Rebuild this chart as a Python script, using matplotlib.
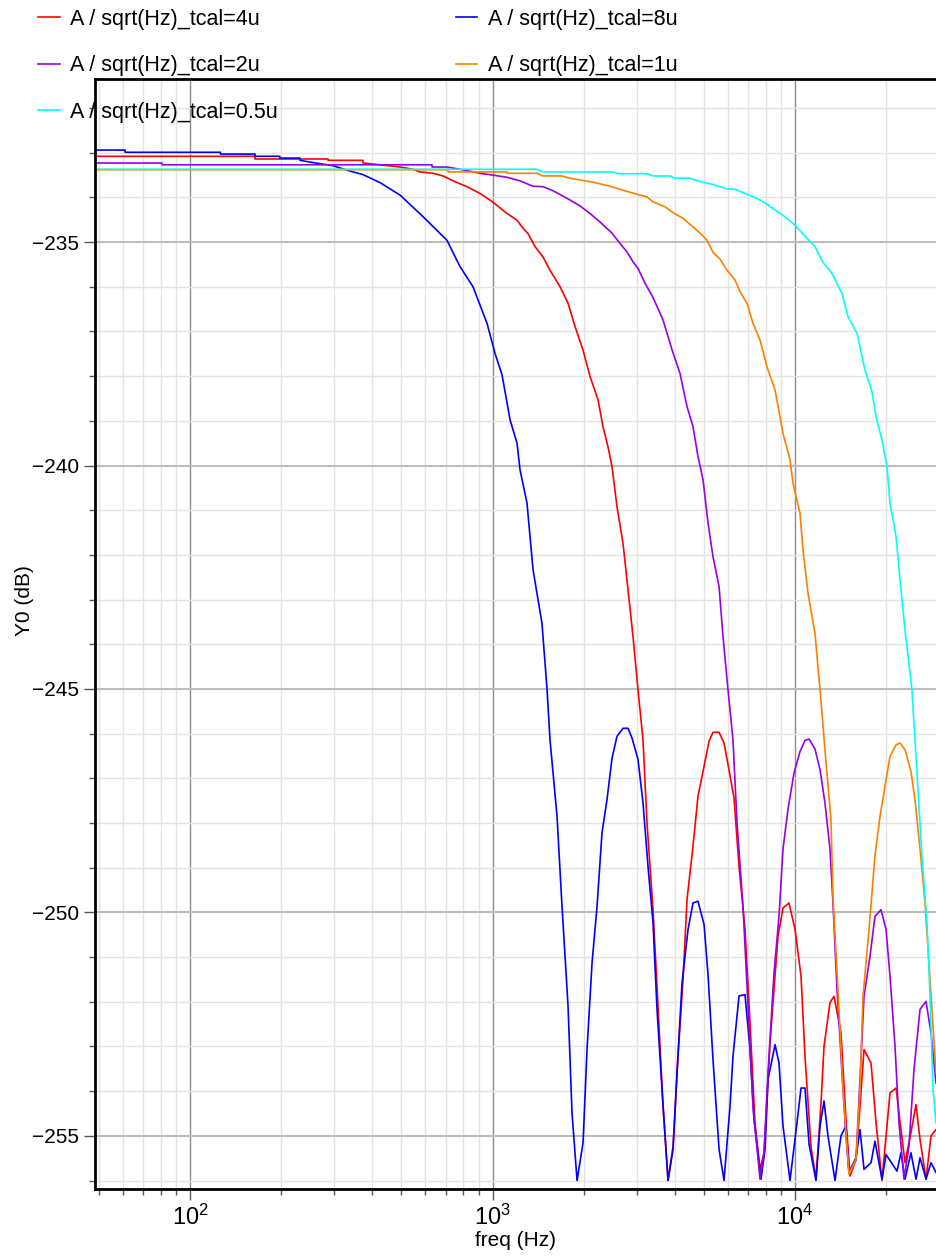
import numpy as np
import matplotlib
matplotlib.use("Agg")
import matplotlib.pyplot as plt
from matplotlib.ticker import LogLocator, MultipleLocator, NullFormatter

plt.rcParams['font.family'] = ['Liberation Sans', 'DejaVu Sans']

# tcal = 8u
f_8u = [48.5, 61, 61, 126, 126, 164, 164, 198, 198, 231, 231, 255, 297, 330, 373, 425, 495, 589, 707, 781,
        862, 959, 1019, 1075, 1143, 1205, 1233, 1300, 1361, 1457, 1514, 1549, 1634, 1697, 1777, 1831, 1903,
        1992, 2053, 2133, 2216, 2301, 2390, 2483, 2579, 2700, 2805, 2892, 3027, 3144, 3266, 3393, 3498, 3634,
        3804, 3952, 4073, 4231, 4430, 4600, 4778, 5004, 5158, 5357, 5609, 5825, 6097, 6237, 6530, 6834, 7100,
        7317, 7720, 7960, 8143, 8590, 8853, 9127, 9627, 10150, 10470, 10790, 11130, 11730, 12100, 12470,
        12850, 13560, 14190, 14740, 15080, 15910, 16400, 16910, 17840, 18380, 19390, 20000, 21740, 22400,
        23100, 24170, 25120, 25900, 27110, 28160, 29250]
db_8u = [-232.94, -232.94, -232.99, -232.99, -233.03, -233.03, -233.08, -233.08, -233.12, -233.12, -233.17,
         -233.22, -233.29, -233.39, -233.49, -233.67, -233.95, -234.43, -234.96, -235.55, -236.0, -236.82,
         -237.49, -237.97, -238.98, -239.5, -240.1, -240.84, -242.33, -243.53, -245.0, -246.14, -247.85,
         -249.86, -252.1, -254.48, -256.0, -255.15, -253.07, -251.13, -249.86, -248.22, -247.48, -246.55,
         -246.06, -245.88, -245.88, -246.1, -246.58, -247.55, -248.97, -250.23, -252.17, -253.96, -256.0,
         -255.3, -253.59, -251.58, -250.38, -249.79, -249.75, -250.27, -251.4, -253.3, -255.3, -256.0,
         -254.34, -253.22, -251.87, -251.84, -253.07, -254.63, -255.97, -255.3, -253.74, -252.96, -253.37,
         -254.78, -256.0, -254.71, -253.93, -253.93, -255.19, -256.0, -254.78, -254.22, -255.0, -256.0,
         -255.0, -254.78, -255.82, -255.49, -254.86, -255.75, -255.6, -255.12, -255.97, -255.42, -255.79,
         -255.38, -255.97, -255.38, -255.97, -255.49, -255.97, -255.6, -255.82]

# tcal = 4u
f_4u = [48.5, 164, 164, 286, 286, 373, 373, 425, 495, 546, 576, 636, 686, 752, 824, 909, 1000, 1117, 1205,
        1261, 1310, 1382, 1468, 1549, 1672, 1777, 1874, 1992, 2101, 2233, 2318, 2408, 2483, 2579, 2700, 2805,
        2914, 3027, 3144, 3241, 3393, 3525, 3661, 3804, 3952, 4104, 4264, 4395, 4600, 4778, 5004, 5197, 5357,
        5609, 5825, 6050, 6285, 6530, 6834, 7100, 7373, 7661, 7898, 8267, 8787, 9127, 9555, 10000, 10470,
        10790, 11290, 11730, 12190, 12470, 13050, 13460, 14190, 14740, 15200, 15910, 16400, 16910, 17840,
        18530, 19390, 20000, 20610, 21580, 22400, 23100, 24170, 25120, 25900, 27110, 28160, 29250]
db_4u = [-233.08, -233.08, -233.14, -233.14, -233.17, -233.17, -233.23, -233.27, -233.32, -233.37, -233.43,
         -233.46, -233.52, -233.65, -233.76, -233.91, -234.1, -234.36, -234.51, -234.69, -234.81, -235.1,
         -235.33, -235.63, -236.0, -236.37, -236.89, -237.42, -238.01, -238.53, -239.13, -239.58, -240.02,
         -240.92, -241.74, -242.78, -243.83, -245.02, -246.14, -248.0, -249.94, -252.1, -254.34, -256.0,
         -255.23, -253.22, -251.5, -249.71, -248.52, -247.4, -246.73, -246.17, -245.97, -245.97, -246.21,
         -246.81, -247.44, -248.97, -250.38, -252.47, -254.71, -255.75, -255.38, -252.92, -250.53, -249.9,
         -249.79, -250.38, -251.43, -253.22, -255.23, -255.97, -254.26, -253.0, -252.02, -251.88, -252.7,
         -254.63, -255.9, -255.53, -254.34, -253.07, -253.37, -254.71, -256.0, -255.0, -254.04, -253.93,
         -254.86, -255.6, -254.93, -254.3, -255.08, -255.97, -255.0, -254.86]

# tcal = 2u
f_2u = [48.5, 80.8, 80.8, 631, 631, 707, 781, 909, 1000, 1117, 1233, 1361, 1468, 1585, 1763, 1947, 2101,
        2267, 2483, 2639, 2783, 2914, 3027, 3193, 3393, 3661, 3922, 4167, 4395, 4600, 4778, 4965, 5158, 5357,
        5609, 5781, 6005, 6237, 6432, 6730, 6993, 7263, 7661, 7898, 8143, 8522, 8853, 9127, 9482, 9924,
        10390, 10790, 11130, 11640, 12100, 12560, 13050, 13350, 13770, 14300, 14740, 15080, 15910, 16400,
        16910, 17700, 18380, 19240, 20000, 20610, 21410, 22070, 22930, 23810, 24740, 25900, 27110, 28160,
        29250]
db_2u = [-233.23, -233.23, -233.27, -233.27, -233.32, -233.32, -233.37, -233.46, -233.5, -233.55, -233.63,
         -233.75, -233.76, -233.85, -234.02, -234.19, -234.36, -234.55, -234.8, -235.03, -235.22, -235.44,
         -235.59, -235.92, -236.24, -236.74, -237.41, -237.94, -238.68, -239.13, -239.8, -240.32, -241.29,
         -242.04, -242.71, -243.83, -245.02, -246.14, -248.0, -249.86, -252.1, -254.34, -255.97, -255.38,
         -253.59, -251.35, -250.09, -248.58, -247.69, -246.88, -246.4, -246.15, -246.12, -246.34, -246.81,
         -247.55, -248.58, -249.79, -251.73, -253.59, -255.0, -255.82, -255.53, -253.74, -251.88, -250.98,
         -250.09, -249.94, -250.38, -251.43, -252.99, -254.71, -255.97, -255.23, -253.52, -252.17, -251.99,
         -252.7, -253.82]

# tcal = 1u
f_1u = [48.5, 713, 713, 1117, 1117, 1403, 1468, 1697, 1777, 1947, 2149, 2446, 2700, 3004, 3241, 3393, 3717,
        3952, 4264, 4600, 4926, 5119, 5357, 5650, 5961, 6334, 6580, 6939, 7263, 7661, 8080, 8590, 8919, 9127,
        9627, 9850, 10390, 10630, 11040, 11640, 12100, 12560, 13150, 13350, 13870, 14410, 15080, 15910,
        16400, 16780, 17570, 18380, 19100, 20000, 20610, 21580, 22240, 23100, 24170, 24930, 25900, 26900,
        27950, 29250]
db_1u = [-233.38, -233.38, -233.43, -233.43, -233.46, -233.46, -233.52, -233.52, -233.56, -233.61, -233.66,
         -233.75, -233.84, -233.93, -233.99, -234.1, -234.21, -234.34, -234.47, -234.66, -234.84, -234.96,
         -235.23, -235.38, -235.63, -235.85, -236.11, -236.37, -236.82, -237.19, -237.79, -238.31, -238.91,
         -239.28, -239.87, -240.4, -241.07, -241.89, -242.86, -243.75, -245.02, -246.36, -247.93, -249.64,
         -251.73, -253.96, -255.86, -255.53, -253.96, -251.88, -250.38, -248.73, -247.85, -247.03, -246.51,
         -246.25, -246.21, -246.36, -246.84, -247.48, -248.58, -249.79, -251.5, -253.59]

# tcal = 0.5u
f_05u = [48.5, 1403, 1468, 2502, 2599, 3241, 3393, 3862, 4012, 4497, 4671, 4965, 5357, 5961, 6334, 6939,
         7487, 8080, 8457, 9127, 10000, 10960, 11640, 12380, 13250, 14300, 14970, 16030, 17030, 17970, 18530,
         19390, 20140, 20610, 21580, 22240, 23100, 24360, 25310, 26290, 27320, 27950, 28590, 29250]
db_05u = [-233.37, -233.37, -233.43, -233.43, -233.47, -233.47, -233.52, -233.52, -233.57, -233.57, -233.61,
          -233.66, -233.71, -233.81, -233.82, -233.93, -234.02, -234.15, -234.25, -234.4, -234.62, -234.92,
          -235.1, -235.46, -235.7, -236.15, -236.67, -237.04, -237.86, -238.35, -238.91, -239.43, -240.02,
          -240.84, -241.59, -242.56, -243.68, -245.02, -246.88, -248.75, -250.24, -251.88, -253.96, -254.71]

labels = ["A / sqrt(Hz)_tcal=4u", "A / sqrt(Hz)_tcal=8u", "A / sqrt(Hz)_tcal=2u",
          "A / sqrt(Hz)_tcal=1u", "A / sqrt(Hz)_tcal=0.5u"]
series = [(f_4u, db_4u), (f_8u, db_8u), (f_2u, db_2u), (f_1u, db_1u), (f_05u, db_05u)]
colors = ["#ff0000", "#0000ff", "#9a00e6", "#ff8000", "#00ffff"]

fig = plt.figure(figsize=(9.36, 12.59), dpi=100)
ax = fig.add_axes([95 / 936, 1 - 1189 / 1259, 1 - 95 / 936, (1189 - 79) / 1259])

lines = []
for (f, db), c, lab in zip(series, colors, labels):
    ln, = ax.plot(f, db, color=c, lw=1.2, label=lab)
    lines.append(ln)

ax.set_xscale("log")
ax.set_xlim(48.5, 29250)
ax.set_ylim(-256.19, -231.35)

ax.xaxis.set_major_locator(LogLocator(base=10))
ax.xaxis.set_minor_locator(LogLocator(base=10, subs=np.arange(2, 10)))
ax.xaxis.set_minor_formatter(NullFormatter())
ax.yaxis.set_major_locator(MultipleLocator(5))
ax.yaxis.set_minor_locator(MultipleLocator(1))

ax.grid(True, which="minor", color="#e3e3e3", lw=1.0)
ax.grid(True, which="major", axis="y", color="#bdbdbd", lw=1.5)
ax.grid(True, which="major", axis="x", color="#8c8c8c", lw=1.0)
ax.set_axisbelow(True)

for s in ["left", "bottom", "top"]:
    ax.spines[s].set_linewidth(2)
    ax.spines[s].set_color("black")
ax.spines["right"].set_visible(False)

ax.tick_params(axis="both", which="major", length=8, width=1, color="#555555")
ax.tick_params(axis="y", which="major", labelsize=15)
ax.tick_params(axis="x", which="major", labelsize=17, pad=3)
ax.tick_params(axis="both", which="minor", length=4, width=1, color="#555555")

ax.set_xlabel("freq (Hz)", fontsize=15, labelpad=1)
ax.set_ylabel("Y0 (dB)", fontsize=15)
ax.yaxis.set_label_coords(-0.073, 0.53)

# legend laid out row by row: 4u, 8u / 2u, 1u / 0.5u
order = [0, 2, 4, 1, 3]
fig.legend([lines[i] for i in order], [labels[i] for i in order], ncol=2,
           loc="upper left", bbox_to_anchor=(38 / 936, 1 - 9 / 1259), frameon=False,
           fontsize=15.5, handlelength=1.0, handletextpad=0.5, columnspacing=8.25,
           labelspacing=1.18, borderpad=0, borderaxespad=0)

fig.savefig("out.png", dpi=100)
